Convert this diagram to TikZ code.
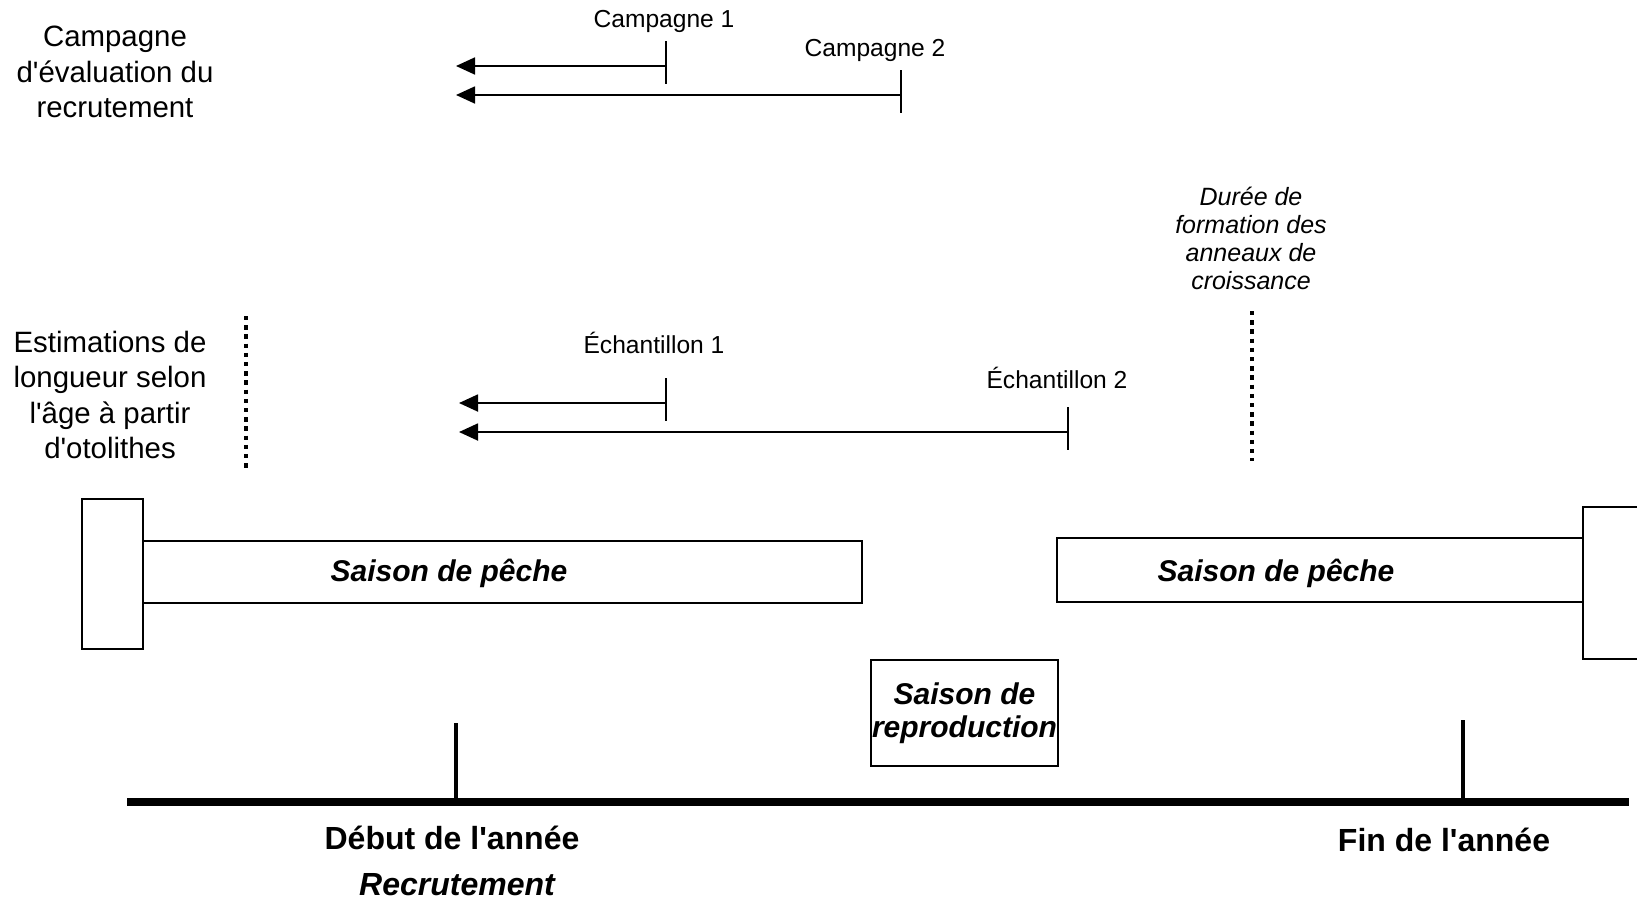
\documentclass[tikz,border=0pt]{standalone}
\usepackage{fontspec}
\setmainfont{Liberation Sans}
\usetikzlibrary{arrows.meta}
\usetikzlibrary{positioning}
\newcommand{\apos}{\textquotesingle}

\begin{document}
\begin{tikzpicture}[x=0.5pt,y=-0.5pt,
  titre/.style={align=center,font=\fontsize{14.7}{17.7}\selectfont,inner sep=0pt},
  petit/.style={font=\fontsize{12.3}{14}\selectfont,inner sep=0pt},
  saison/.style={font=\fontsize{15}{16.7}\selectfont\bfseries\itshape,inner sep=0pt,align=center},
  annee/.style={font=\fontsize{16}{18}\selectfont\bfseries,inner sep=0pt},
  boite/.style={draw,line width=1pt,inner sep=0pt},
  fleche/.style={line width=0.9pt,-{Triangle[length=9.5pt,width=8.5pt]}},
  repere/.style={line width=1pt},
  pointille/.style={line width=2.2pt,dash pattern=on 2.2pt off 2.4pt}]
\useasboundingbox (0,0) rectangle (1637,901);
\clip (0,0) rectangle (1637,901);

% textes de gauche
\node[titre] (campagnes) at (115,72) {Campagne\\d\apos évaluation du\\recrutement};
\node[titre] (estimations) at (110,395) {Estimations de\\longueur selon\\l\apos âge à partir\\d\apos otolithes};
\node[titre,font=\fontsize{12.5}{14}\selectfont\itshape] (duree) at (1251,238)
  {Durée de\\formation des\\anneaux de\\croissance};

% campagnes et echantillons
\foreach \nom/\xd/\xf/\y/\lx/\ly/\texte in {
  camp1/666/456/66/664/21/Campagne 1,
  camp2/901/456/95/875/50/Campagne 2,
  ech1/666/459/403/654/343/Échantillon 1,
  ech2/1068/459/432/1057/378/Échantillon 2}
{
  \coordinate (\nom) at (\xd,\y);
  \coordinate (\nom-g) at (\xf,\y);
  \draw[fleche] (\nom) -- (\nom-g);
  \draw[repere] ([yshift=12.5pt]\nom) -- ([yshift=-9pt]\nom);
  \node[petit] (\nom-t) at (\lx,\ly) {\texte};
}

% pointilles
\coordinate (pg-h) at (246,316);
\coordinate (pg-b) at (246,468);
\coordinate (pd-h) at (1252,311);
\coordinate (pd-b) at (1252,461);
\draw[pointille] (pg-h) -- (pg-b);
\draw[pointille] (pd-h) -- (pd-b);

% saisons
\node[boite,minimum width=30.5pt,minimum height=75pt] (bord-g) at (112.5,574) {};
\node[boite,minimum width=359.5pt,minimum height=31pt] (peche-g) at (502.5,572) {};
\node[saison] (peche-g-t) at (449,573) {Saison de pêche};
\node[boite,minimum width=263pt,minimum height=32pt] (peche-d) at (1320,570) {};
\node[saison] (peche-d-t) at (1276,573) {Saison de pêche};
\node[boite,minimum width=38.5pt,minimum height=76pt] (bord-d) at (1621.5,583) {};
\node[boite,saison,minimum width=93.5pt,minimum height=53pt] (repro) at (964.5,713)
  {Saison de\\reproduction};

% axe du temps
\coordinate (axe-g) at (127,802);
\coordinate (axe-d) at (1629,802);
\coordinate (debut) at (456,802);
\coordinate (fin) at (1463,802);
\draw[line width=4pt] (axe-g) -- (axe-d);
\draw[line width=2pt] (debut) -- ++(0,-79);
\draw[line width=2pt] (fin) -- ++(0,-82);
\node[annee] (debut-t) at (452,838) {Début de l\apos année};
\node[annee,font=\fontsize{16}{18}\selectfont\bfseries\itshape] (recrut) at (457,885) {Recrutement};
\node[annee] (fin-t) at (1444,840) {Fin de l\apos année};
\end{tikzpicture}
\end{document}
